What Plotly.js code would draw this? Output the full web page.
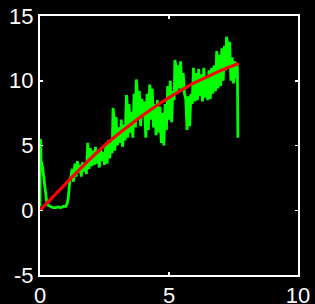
<!DOCTYPE html>
<html>
<head>
<meta charset="utf-8">
<script src="https://cdn.plot.ly/plotly-3.0.1.min.js"></script>
<style>html,body{margin:0;padding:0;background:#000;}#chart{width:315px;height:304px;}</style>
</head>
<body>
<div id="chart"></div>
<script>
const greenX = [0, 0.01, 0.02, 0.03, 0.04, 0.06, 0.1, 0.15, 0.2, 0.25, 0.3, 0.4, 0.5, 0.6, 0.7, 0.8, 0.9, 1.0, 1.05, 1.1, 1.13, 1.16, 1.2,
  1.25, 1.30, 1.35, 1.40, 1.45, 1.50, 1.55, 1.60, 1.65, 1.70, 1.75, 1.80, 1.85, 1.90, 1.95,
  2.00, 2.05, 2.10, 2.15, 2.20, 2.25, 2.30, 2.35, 2.40, 2.45, 2.50, 2.55, 2.60, 2.65, 2.70, 2.75,
  2.80, 2.83, 2.86, 2.90, 2.95, 3.00, 3.05, 3.10, 3.15, 3.20, 3.25, 3.30, 3.35, 3.38, 3.40, 3.45, 3.50, 3.55,
  3.60, 3.65, 3.70, 3.73, 3.76, 3.80, 3.85, 3.90, 3.95, 4.00, 4.05, 4.10, 4.15, 4.20, 4.25, 4.28, 4.30, 4.35,
  4.40, 4.45, 4.50, 4.55, 4.60, 4.65, 4.70, 4.75, 4.80, 4.85, 4.90, 4.95, 5.00, 5.05, 5.10, 5.15,
  5.20, 5.23, 5.26, 5.30, 5.35, 5.40, 5.45, 5.50, 5.55, 5.60, 5.65, 5.70, 5.75, 5.80, 5.85, 5.90, 5.95,
  6.00, 6.05, 6.10, 6.15, 6.20, 6.25, 6.30, 6.35, 6.40, 6.45, 6.50, 6.55, 6.60, 6.65, 6.70, 6.75,
  6.80, 6.85, 6.90, 6.95, 7.00, 7.05, 7.10, 7.15, 7.20, 7.23, 7.26, 7.30, 7.35, 7.40, 7.45, 7.50, 7.55,
  7.60, 7.63, 7.65, 7.67];
const greenY = [0.3, 5.5, 0.8, 5.3, 3.8, 3.7, 3.3, 2.5, 1.5, 0.8, 0.4, 0.3, 0.2, 0.2, 0.25, 0.2, 0.3, 0.3, 0.5, 1.0, 1.8, 2.4, 2.6,
  3.2, 2.2, 3.6, 2.6, 3.8, 2.9, 3.5, 2.6, 3.7, 3.0, 3.6, 2.8, 5.2, 3.2, 4.8,
  3.4, 4.6, 3.5, 4.9, 3.6, 4.4, 3.3, 4.7, 3.8, 4.5, 3.5, 5.0, 3.6, 5.4, 4.0, 5.2,
  4.4, 7.9, 7.4, 4.6, 7.2, 5.0, 6.4, 5.2, 7.0, 4.9, 6.6, 5.4, 8.9, 8.3, 5.6, 8.2, 6.0, 7.6,
  5.6, 9.0, 6.4, 10.1, 9.6, 7.0, 9.2, 6.5, 8.6, 7.2, 8.4, 5.6, 9.0, 6.2, 9.7, 9.2, 7.0, 9.4,
  6.4, 8.2, 5.8, 8.5, 6.0, 8.0, 5.2, 7.5, 5.0, 8.2, 6.2, 9.6, 7.0, 10.0, 6.8, 9.2,
  8.5, 11.6, 11.2, 9.0, 11.2, 9.4, 11.5, 9.2, 10.6, 9.0, 8.6, 6.2, 8.8, 6.5, 9.0, 8.2, 11.0,
  8.4, 10.6, 8.5, 10.9, 8.8, 10.5, 8.4, 11.0, 8.7, 10.2, 8.5, 10.8, 8.6, 11.0, 9.0, 11.2,
  9.2, 12.3, 9.4, 12.0, 9.6, 12.5, 10.0, 12.7, 10.8, 13.4, 13.0, 11.0, 13.0, 10.0, 11.8, 9.8, 11.5,
  10.2, 11.3, 11.0, 5.6];
const redX = [0, 0.5, 1.0, 1.5, 2.0, 2.5, 3.0, 3.5, 4.0, 4.5, 5.0, 5.5, 6.0, 6.5, 7.0, 7.5, 7.7];
const redY = [0, 1.03, 2.06, 3.08, 4.07, 5.0, 5.83, 6.6, 7.35, 8.05, 8.7, 9.3, 9.85, 10.32, 10.78, 11.18, 11.35];
const xTicks = [0, 5, 10];
const yTicks = [-5, 0, 5, 10, 15];

const axisCommon = {
  showgrid: false, zeroline: false, showline: true, linecolor: '#fff', linewidth: 2,
  mirror: 'ticks', ticks: 'inside', ticklen: 3, tickwidth: 1.5, tickcolor: '#fff',
  tickfont: {family: 'Liberation Sans, Arial, sans-serif', size: 22, color: '#fff'},
  tickmode: 'array'
};
const layout = {
  width: 315, height: 304,
  margin: {l: 40, r: 17, t: 16, b: 29, pad: 0},
  paper_bgcolor: '#000', plot_bgcolor: '#000',
  showlegend: false,
  xaxis: Object.assign({}, axisCommon, {range: [0, 10], tickvals: xTicks, ticktext: xTicks.map(String)}),
  yaxis: Object.assign({}, axisCommon, {range: [-5, 15], tickvals: yTicks, ticktext: yTicks.map(String)})
};
const data = [
  {x: greenX, y: greenY, type: 'scatter', mode: 'lines', line: {color: '#00ff00', width: 2.8}},
  {x: redX, y: redY, type: 'scatter', mode: 'lines', line: {color: '#ff0000', width: 3.2, shape: 'spline'}}
];
Plotly.newPlot('chart', data, layout, {staticPlot: true, displayModeBar: false});
</script>
</body>
</html>
